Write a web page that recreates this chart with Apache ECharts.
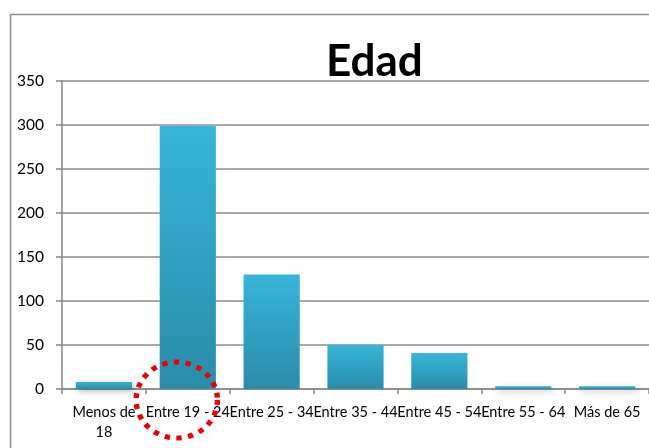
<!DOCTYPE html>
<html>
<head>
<meta charset="utf-8">
<script src="https://cdn.jsdelivr.net/npm/echarts@6/dist/echarts.min.js"></script>
<style>html,body{margin:0;padding:0;background:#fff}#c{width:649px;height:448px}</style>
</head>
<body>
<div id="c"></div>
<script>
const categories = ['Menos de 18', 'Entre 19 - 24', 'Entre 25 - 34', 'Entre 35 - 44', 'Entre 45 - 54', 'Entre 55 - 64', 'Más de 65'];
const values = [8, 299, 130, 50, 41, 3, 3];
const yTicks = [0, 50, 100, 150, 200, 250, 300, 350];
const titleText = 'Edad';
const highlighted = 'Entre 19 - 24';

const chart = echarts.init(document.getElementById('c'), null, {renderer: 'canvas'});
const font = 'Lato, "Open Sans", sans-serif';
chart.setOption({
  animation: false,
  title: {
    text: titleText, left: 321, top: 35,
    textStyle: {fontFamily: font, fontSize: 44, fontWeight: 'bold', color: '#000'}
  },
  grid: {left: 62, top: 81, width: 587, bottom: 59, containLabel: false},
  xAxis: {
    type: 'category', data: categories,
    axisLine: {lineStyle: {color: '#868686', width: 1.5}},
    axisTick: {show: true, length: 5, lineStyle: {color: '#868686', width: 1.5}},
    axisLabel: {
      interval: 0, margin: 13, color: '#000', fontFamily: font, fontSize: 14.5, lineHeight: 20,
      formatter: v => v === 'Menos de 18' ? 'Menos de\n18' : v
    },
    splitLine: {show: false}
  },
  yAxis: {
    type: 'value', min: yTicks[0], max: yTicks[yTicks.length - 1], interval: 50,
    axisLine: {show: true, lineStyle: {color: '#868686', width: 1.5}},
    axisTick: {show: true, length: 6, lineStyle: {color: '#868686', width: 1.5}},
    axisLabel: {margin: 18, color: '#000', fontFamily: font, fontSize: 15.5},
    splitLine: {lineStyle: {color: '#8c8c8c', width: 1.5}}
  },
  series: [{
    type: 'bar', data: values, barCategoryGap: '33%',
    itemStyle: {
      color: new echarts.graphic.LinearGradient(0, 0, 0, 1, [
        {offset: 0, color: '#37b5d9'},
        {offset: 1, color: '#2a8ca8'}
      ]),
      shadowBlur: 6, shadowColor: 'rgba(0,0,0,0.3)', shadowOffsetX: 2, shadowOffsetY: 2
    }
  }]
});

const px = chart.convertToPixel({xAxisIndex: 0}, highlighted);
const py = chart.convertToPixel({yAxisIndex: 0}, 0);
chart.setOption({
  graphic: [
    {type: 'rect', left: 8, top: 12, shape: {x: 0, y: 0, width: 700, height: 500},
     style: {fill: 'none', stroke: '#8a8a8a', lineWidth: 1.5}, silent: true},
    {type: 'circle', shape: {cx: px - 11, cy: py + 11, r: 38},
     scaleX: 1.07, originX: px - 11, originY: py + 11,
     style: {fill: 'none', stroke: '#e8000b', lineWidth: 5, lineDash: [5, 6]}, silent: true, z: 100}
  ]
});
</script>
</body>
</html>
